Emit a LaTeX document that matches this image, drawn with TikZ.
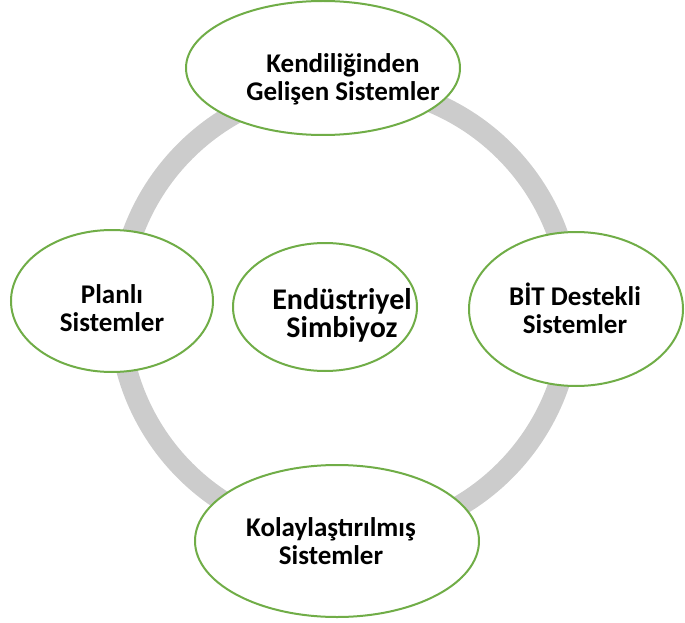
\documentclass[tikz,border=0pt]{standalone}
\usepackage{fontspec}
\setmainfont{Carlito}
\usepackage{tikz}
\usetikzlibrary{shapes.geometric}

\definecolor{sysgreen}{RGB}{112,173,71}
\definecolor{ringgray}{RGB}{204,204,204}

\begin{document}
\begin{tikzpicture}[
    x=1pt, y=-1pt,
    sys/.style={ellipse, draw=sysgreen, line width=2pt, fill=white, inner sep=0pt},
    lbl/.style={align=center, font=\bfseries\fontsize{27}{28}\selectfont}
]
    \useasboundingbox (0,0) rectangle (685,623);

    % ring behind the systems
    \draw[ringgray, line width=21pt] (345,311) circle[radius=226pt];

    \node[sys, minimum width=274pt, minimum height=134pt] (kend) at (323, 68) {};
    \node[sys, minimum width=202pt, minimum height=142pt] (plan) at (112, 301) {};
    \node[sys, minimum width=214pt, minimum height=154pt] (bit) at (576, 309) {};
    \node[sys, minimum width=284pt, minimum height=152pt] (kolay) at (337, 541) {};
    \node[sys, minimum width=184pt, minimum height=128pt] (endus) at (325, 307) {};

    \node[lbl] (kend-t) at (343, 79) {Kendiliğinden\\Gelişen Sistemler};
    \node[lbl] (plan-t) at (112, 308) {Planlı\\Sistemler};
    \node[lbl] (bit-t) at (575, 308) {BİT Destekli\\Sistemler};
    \node[lbl] (kolay-t) at (331, 541) {Kolaylaştırılmış\\Sistemler};
    \node[lbl, font=\bfseries\fontsize{30}{28}\selectfont] (endus-t) at (342, 315) {Endüstriyel\\Simbiyoz};
\end{tikzpicture}
\end{document}
